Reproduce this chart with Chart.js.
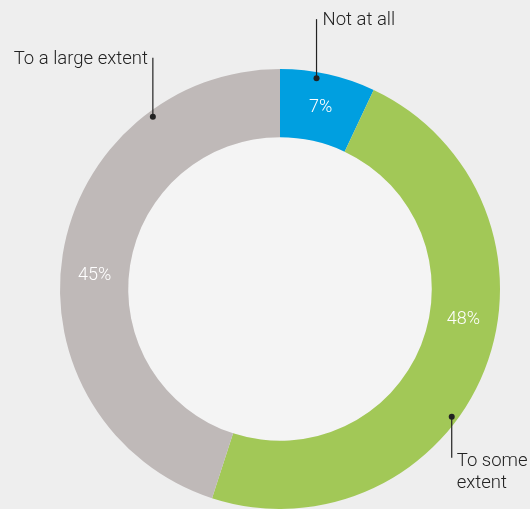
<!DOCTYPE html>
<html>
<head>
<meta charset="utf-8">
<script src="https://cdn.jsdelivr.net/npm/chart.js@4"></script>
<style>
  html, body { margin: 0; padding: 0; background: #eeeeee; }
  #wrap { width: 530px; height: 509px; }
</style>
</head>
<body>
<div id="wrap"><canvas id="myChart" width="530" height="509"></canvas></div>
<script>
const categories = ['Not at all', 'To some extent', 'To a large extent'];
const shares = [7, 48, 45];
const colors = ['#009fe0', '#a2c857', '#bfb9b8'];
// where along each slice the percentage sits (0 = start, 1 = end)
const labelSpot = [0.5, 0.43, 0.47];
// callout anchor along each slice
const calloutSpot = [0.39, 0.587, 0.775];
const calloutLines = [['Not at all'], ['To some', 'extent'], ['To a large extent']];

const FONT = '"Roboto", "Liberation Sans", sans-serif';

function pointOn(arc, frac, r) {
  const a = arc.startAngle + (arc.endAngle - arc.startAngle) * frac;
  return { x: arc.x + Math.cos(a) * r, y: arc.y + Math.sin(a) * r };
}

const ringPlugin = {
  id: 'ring',
  beforeDatasetsDraw(chart) {
    const arc = chart.getDatasetMeta(0).data[0];
    const ctx = chart.ctx;
    ctx.save();
    ctx.fillStyle = '#f4f4f4';
    ctx.beginPath();
    ctx.arc(arc.x, arc.y, arc.innerRadius, 0, Math.PI * 2);
    ctx.fill();
    ctx.restore();
  },
  afterDatasetsDraw(chart) {
    const ctx = chart.ctx;
    const arcs = chart.getDatasetMeta(0).data;
    ctx.save();
    // percentages inside the ring
    ctx.font = '300 18px ' + FONT;
    ctx.fillStyle = '#ffffff';
    ctx.textAlign = 'center';
    ctx.textBaseline = 'middle';
    arcs.forEach((arc, i) => {
      const p = pointOn(arc, labelSpot[i], (arc.innerRadius + arc.outerRadius) / 2);
      ctx.fillText(shares[i] + '%', p.x, p.y);
    });

    // callouts: dot on the ring, vertical leader, text
    ctx.font = '300 18.5px ' + FONT;
    ctx.fillStyle = '#222222';
    ctx.strokeStyle = '#222222';
    ctx.lineWidth = 1.2;
    ctx.textBaseline = 'alphabetic';
    arcs.forEach((arc, i) => {
      const d = pointOn(arc, calloutSpot[i], arc.outerRadius - 6);
      const up = d.y < arc.y;
      const len = up ? 59 : 41;
      const endY = up ? d.y - len : d.y + len;
      ctx.beginPath();
      ctx.arc(d.x, d.y, 3, 0, Math.PI * 2);
      ctx.fill();
      ctx.beginPath();
      ctx.moveTo(d.x, d.y);
      ctx.lineTo(d.x, endY);
      ctx.stroke();
      const lines = calloutLines[i];
      if (up) {
        const left = d.x > arc.x;
        ctx.textAlign = left ? 'left' : 'right';
        const tx = left ? d.x + 6 : d.x - 5;
        ctx.fillText(lines[0], tx, endY + 6);
      } else {
        ctx.textAlign = 'left';
        lines.forEach((t, k) => ctx.fillText(t, d.x + 5, endY + 8 + k * 22));
      }
    });
    ctx.restore();
  }
};

const data = {
  labels: categories,
  datasets: [{
    data: shares,
    backgroundColor: colors,
    borderWidth: 0
  }]
};

const config = {
  type: 'doughnut',
  data,
  options: {
    responsive: false,
    animation: false,
    cutout: '69%',
    layout: { padding: { left: 60, right: 30, top: 69, bottom: 0 } },
    plugins: {
      legend: { display: false },
      tooltip: { enabled: false }
    }
  },
  plugins: [ringPlugin]
};

const myChart = new Chart(document.getElementById('myChart'), config);
</script>
</body>
</html>
